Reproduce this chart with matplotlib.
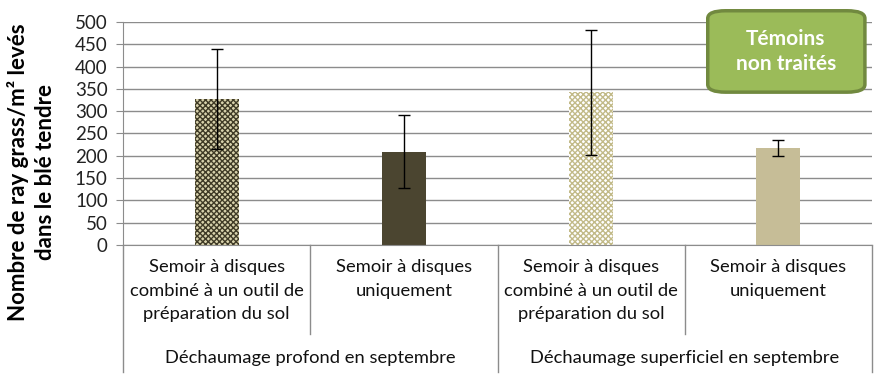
import numpy as np
import matplotlib.pyplot as plt
from matplotlib.patches import FancyBboxPatch
from matplotlib.lines import Line2D

plt.rcParams['font.family'] = ['Lato', 'DejaVu Sans']
plt.rcParams['hatch.linewidth'] = 1.0

# data
sub_labels = [
    "Semoir à disques\ncombiné à un outil de\npréparation du sol",
    "Semoir à disques\nuniquement",
    "Semoir à disques\ncombiné à un outil de\npréparation du sol",
    "Semoir à disques\nuniquement",
]
group_labels = ["Déchaumage profond en septembre", "Déchaumage superficiel en septembre"]
values = [328, 209, 342, 217]
errors = [112, 82, 140, 18]
face_colors = ["#d8d2ac", "#4b4530", "#ffffff", "#c6bd97"]
hatch_colors = ["#3f3a26", "#4b4530", "#c2ba88", "#c6bd97"]
hatches = ["xxxxxx", None, "xxxxxx", None]

fig = plt.figure(figsize=(8.88, 3.84), dpi=100)
ax = fig.add_axes([0.1385, 0.362, 0.8435, 0.581])

x = np.arange(len(values))
for i in range(len(values)):
    ax.bar(x[i], values[i], width=0.235, color=face_colors[i], edgecolor=hatch_colors[i],
           hatch=hatches[i], linewidth=0, zorder=2)
ax.errorbar(x, values, yerr=errors, fmt="none", ecolor="black", elinewidth=1,
            capsize=4, capthick=1, zorder=3)

ax.set_xlim(-0.5, 3.5)
ax.set_ylim(0, 500)
ax.set_yticks(np.arange(0, 501, 50))
ax.yaxis.grid(True, color="#8c8c8c", linewidth=1)
ax.set_axisbelow(True)
ax.set_xticks([])
for s in ["top", "right"]:
    ax.spines[s].set_visible(False)
ax.spines["left"].set_color("#8c8c8c")
ax.spines["bottom"].set_color("#8c8c8c")
ax.tick_params(axis="y", direction="out", length=5, color="#8c8c8c",
               labelsize=13.5, labelcolor="#222222", pad=6)

fig.text(0.035, 0.552, "Nombre de ray grass/m² levés\ndans le blé tendre", rotation=90,
         ha="center", va="center", fontsize=16, fontweight="bold", linespacing=1.35)

# multi-level category axis
trans = ax.get_xaxis_transform()
for i, lab in enumerate(sub_labels):
    ax.text(x[i], -0.065, lab, transform=trans, ha="center", va="top",
            fontsize=13.2, linespacing=1.55, color="#111111")
for g, lab in enumerate(group_labels):
    ax.text(2 * g + 0.5, -0.505, lab, transform=trans, ha="center", va="center",
            fontsize=13.2, color="#111111")
for xs in [-0.5, 1.5, 3.5]:
    ax.add_line(Line2D([xs, xs], [0, -0.57], transform=trans, color="#8c8c8c",
                       linewidth=1, clip_on=False))
for xs in [0.5, 2.5]:
    ax.add_line(Line2D([xs, xs], [0, -0.40], transform=trans, color="#8c8c8c",
                       linewidth=1, clip_on=False))

# legend-like box
box = FancyBboxPatch((0.797, 0.760), 0.177, 0.212, boxstyle="round,pad=0,rounding_size=0.02",
                     transform=fig.transFigure, facecolor="#9bbb59", edgecolor="#71893f",
                     linewidth=2.5, zorder=5)
fig.patches.append(box)
fig.text(0.885, 0.866, "Témoins\nnon traités", ha="center", va="center", color="white",
         fontsize=15, fontweight="bold", linespacing=1.3, zorder=6)

fig.savefig("out.png", dpi=100)
